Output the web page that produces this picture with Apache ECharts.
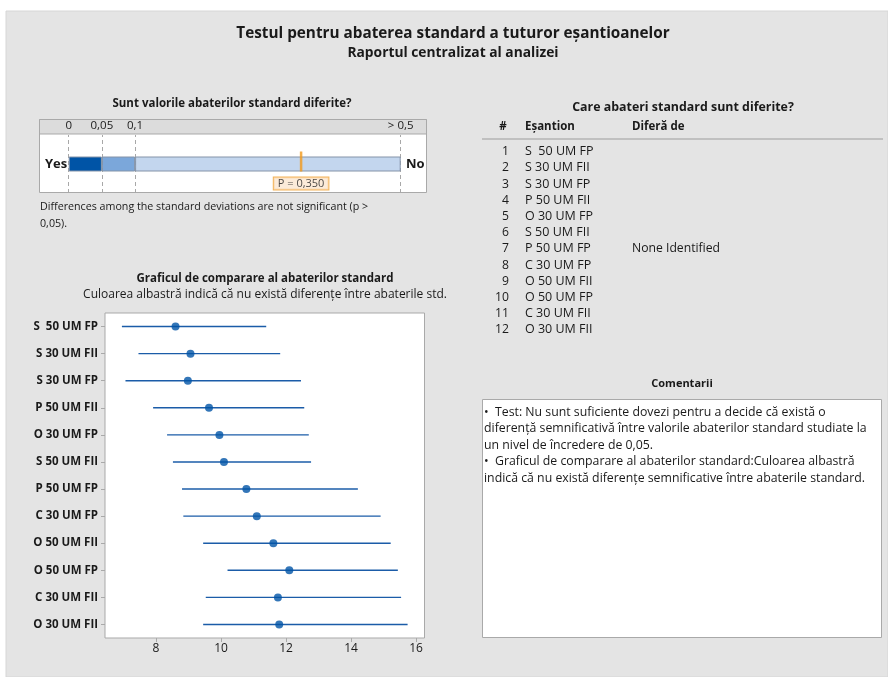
<!DOCTYPE html>
<html>
<head>
<meta charset="utf-8">
<script src="https://cdn.jsdelivr.net/npm/echarts@6/dist/echarts.min.js"></script>
<style>
  html, body { margin: 0; padding: 0; background: #ffffff; }
  #chart { width: 888px; height: 677px; }
</style>
</head>
<body>
<div id="chart"></div>
<script>
// Samples, in the order they are listed and plotted
const categories = ['S  50 UM FP', 'S 30 UM FII', 'S 30 UM FP', 'P 50 UM FII', 'O 30 UM FP', 'S 50 UM FII',
                    'P 50 UM FP', 'C 30 UM FP', 'O 50 UM FII', 'O 50 UM FP', 'C 30 UM FII', 'O 30 UM FII'];
// Standard deviation estimates and their comparison intervals
const stdDev     = [8.60, 9.06, 8.98, 9.63, 9.95, 10.09, 10.78, 11.10, 11.61, 12.10, 11.75, 11.79];
const lowerBound = [6.95, 7.46, 7.06, 7.91, 8.34, 8.52, 8.80, 8.84, 9.45, 10.20, 9.53, 9.45];
const upperBound = [11.39, 11.82, 12.46, 12.56, 12.70, 12.77, 14.21, 14.91, 15.22, 15.44, 15.54, 15.74];
const xTicks = [8, 10, 12, 14, 16];

// Yes/No significance scale
const pThresholds = [0, 0.05, 0.1, 0.5];
const pThresholdLabels = ['0', '0,05', '0,1', '> 0,5'];
const pValue = 0.350;
const pLabel = 'P = 0,350';

// Which samples differ
const differsFrom = 'None Identified';

const titleMain = 'Testul pentru abaterea standard a tuturor eșantioanelor';
const titleSub = 'Raportul centralizat al analizei';
const commentLines = [
  '•  Test: Nu sunt suficiente dovezi pentru a decide că există o',
  'diferență semnificativă între valorile abaterilor standard studiate la',
  'un nivel de încredere de 0,05.',
  '•  Graficul de comparare al abaterilor standard:Culoarea albastră',
  'indică că nu există diferențe semnificative între abaterile standard.'
];

const FONT = '"Open Sans", "Noto Sans", sans-serif';
const TXT = '#1a1a1a';

const chart = echarts.init(document.getElementById('chart'), null, { renderer: 'canvas' });

function txt(x, y, text, opt) {
  return {
    type: 'text', x: x, y: y, z: 10,
    style: Object.assign({ text: text, fill: TXT, font: '12px ' + FONT, textAlign: 'left', textVerticalAlign: 'middle' }, opt || {})
  };
}

const graphics = [
  // panel background
  { type: 'rect', z: -10, shape: { x: 6, y: 11, width: 882, height: 666 }, style: { fill: '#e4e4e4', stroke: '#d6d6d6', lineWidth: 1 } },
  // Yes/No box and its header strip
  { type: 'rect', z: -5, shape: { x: 39.5, y: 119.5, width: 387, height: 73 }, style: { fill: '#ffffff', stroke: '#a9a9a9', lineWidth: 1 } },
  { type: 'rect', z: -4, shape: { x: 39.5, y: 119.5, width: 387, height: 14.5 }, style: { fill: '#dcdcdc', stroke: '#a9a9a9', lineWidth: 1 } },
  // comments box
  { type: 'rect', z: -5, shape: { x: 482.5, y: 399.5, width: 399, height: 238 }, style: { fill: '#ffffff', stroke: '#a9a9a9', lineWidth: 1 } },
  // table header rule
  { type: 'line', z: -4, shape: { x1: 482, y1: 139, x2: 883, y2: 139 }, style: { stroke: '#b4b4b4', lineWidth: 1.5 } },

  txt(453, 34, titleMain, { font: 'bold 15.3px ' + FONT, textAlign: 'center' }),
  txt(453, 53, titleSub, { font: 'bold 13.8px ' + FONT, textAlign: 'center' }),

  txt(232, 104, 'Sunt valorile abaterilor standard diferite?', { font: 'bold 11.5px ' + FONT, textAlign: 'center' }),
  txt(45, 164, 'Yes', { font: 'bold 13px ' + FONT }),
  txt(406, 164, 'No', { font: 'bold 13px ' + FONT }),
  txt(40, 207, 'Differences among the standard deviations are not significant (p >', { font: '10.7px ' + FONT }),
  txt(40, 224, '0,05).', { font: '10.7px ' + FONT }),

  txt(265, 279, 'Graficul de comparare al abaterilor standard', { font: 'bold 11.5px ' + FONT, textAlign: 'center' }),
  txt(265, 295, 'Culoarea albastră indică că nu există diferențe între abaterile std.', { font: '12px ' + FONT, textAlign: 'center' }),

  txt(683, 107, 'Care abateri standard sunt diferite?', { font: 'bold 12.4px ' + FONT, textAlign: 'center' }),
  txt(503, 127, '#', { font: 'bold 11.5px ' + FONT, textAlign: 'center' }),
  txt(525, 127, 'Eșantion', { font: 'bold 11.5px ' + FONT }),
  txt(632, 127, 'Diferă de', { font: 'bold 11.5px ' + FONT }),

  txt(682, 384, 'Comentarii', { font: 'bold 11px ' + FONT, textAlign: 'center' })
];

// table rows
categories.forEach(function (name, i) {
  const y = 151.7 + i * 16.2;
  graphics.push(txt(509, y, String(i + 1), { font: '12.2px ' + FONT, textAlign: 'right' }));
  graphics.push(txt(525, y, name, { font: '12.5px ' + FONT }));
});
graphics.push(txt(632, 151.7 + 6 * 16.2, differsFrom, { font: '12.2px ' + FONT }));

// comment lines
commentLines.forEach(function (line, i) {
  graphics.push(txt(484, 412 + i * 16.6, line, { font: '12.3px ' + FONT }));
});

// stacked bands of the Yes/No scale
const bandColors = ['#0054a6', '#7ba7da', '#c3d6ee'];
const bandSeries = bandColors.map(function (c, i) {
  return {
    type: 'bar', xAxisIndex: 0, yAxisIndex: 0, stack: 'p', barWidth: 15,
    data: [pThresholds[i + 1] - pThresholds[i]],
    itemStyle: { color: c, borderColor: '#8493a8', borderWidth: 1 },
    silent: true, z: 3
  };
});
bandSeries[0].markLine = {
  silent: true, symbol: 'none', label: { show: false },
  lineStyle: { color: '#a8a8a8', type: [4, 3], width: 1 },
  data: pThresholds.map(function (v) { return { xAxis: v }; }),
  z: 1
};

const option = {
  animation: false,
  textStyle: { fontFamily: FONT },
  graphic: graphics,
  grid: [
    { left: 68.7, right: 888 - 400.7, top: 135, height: 58 },
    { left: 105, right: 888 - 424.5, top: 313, bottom: 677 - 638, show: true, backgroundColor: '#ffffff', borderColor: '#a9a9a9', borderWidth: 1 }
  ],
  xAxis: [
    {
      gridIndex: 0, type: 'value', position: 'top', min: 0, max: 0.5,
      axisLine: { show: false }, axisTick: { show: false }, splitLine: { show: false },
      axisLabel: {
        customValues: pThresholds, margin: 3, fontSize: 11.5, color: TXT, fontFamily: FONT,
        formatter: function (v) { return pThresholdLabels[pThresholds.indexOf(v)]; }
      }
    },
    {
      gridIndex: 1, type: 'value', min: 6.43, max: 16.26,
      axisLine: { show: false }, splitLine: { show: false },
      axisTick: { show: true, customValues: xTicks, length: 4, lineStyle: { color: '#a9a9a9' } },
      axisLabel: { customValues: xTicks, margin: 5, fontSize: 12, color: TXT, fontFamily: FONT }
    }
  ],
  yAxis: [
    { gridIndex: 0, type: 'category', data: ['p'], show: false },
    {
      gridIndex: 1, type: 'category', data: categories, inverse: true,
      axisLine: { show: false }, splitLine: { show: false },
      axisTick: { show: true, alignWithLabel: true, length: 4, lineStyle: { color: '#a9a9a9' } },
      axisLabel: { margin: 7, fontSize: 11.5, fontWeight: 'bold', color: TXT, fontFamily: FONT }
    }
  ],
  series: bandSeries.concat([
    {
      type: 'scatter', xAxisIndex: 0, yAxisIndex: 0, z: 5,
      data: [[pValue, 0]],
      symbol: 'rect', symbolSize: [2.5, 20], symbolOffset: [0, -2.5],
      itemStyle: { color: '#f39a1b' },
      label: {
        show: true, position: 'bottom', distance: 6, formatter: pLabel,
        fontSize: 11, color: TXT, fontFamily: FONT,
        backgroundColor: '#fbe6cf', borderColor: '#f0a030', borderWidth: 1, padding: [1, 4, 0, 4]
      }
    },
    {
      type: 'custom', xAxisIndex: 1, yAxisIndex: 1, z: 3,
      data: categories.map(function (c, i) { return [i, lowerBound[i], upperBound[i]]; }),
      encode: { y: 0, x: [1, 2] },
      renderItem: function (params, api) {
        const a = api.coord([api.value(1), api.value(0)]);
        const b = api.coord([api.value(2), api.value(0)]);
        return {
          type: 'line',
          shape: { x1: a[0], y1: a[1], x2: b[0], y2: b[1] },
          style: { stroke: '#1b5ca8', lineWidth: 1.4 }
        };
      }
    },
    {
      type: 'scatter', xAxisIndex: 1, yAxisIndex: 1, z: 4,
      data: stdDev.map(function (v, i) { return [v, i]; }),
      symbol: 'circle', symbolSize: 8,
      itemStyle: { color: '#0054a6' }
    }
  ])
};

chart.setOption(option);
</script>
</body>
</html>
